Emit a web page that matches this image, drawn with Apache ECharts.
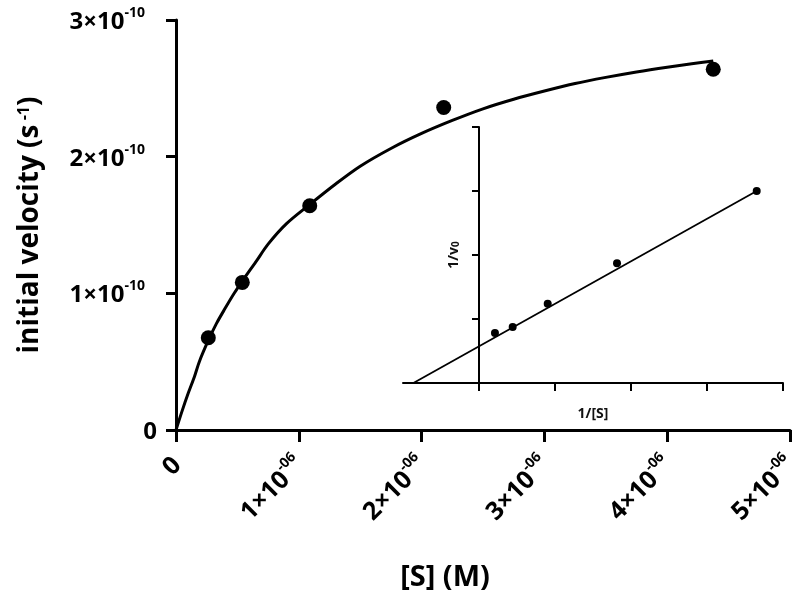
<!DOCTYPE html>
<html>
<head>
<meta charset="utf-8">
<script src="https://cdn.jsdelivr.net/npm/echarts@6/dist/echarts.min.js"></script>
<style>html,body{margin:0;padding:0;background:#fff}#c{width:800px;height:600px}</style>
</head>
<body>
<div id="c"></div>
<script>
// ---- Data (main plot: [S] in units of 1e-6 M, v0 in units of 1e-10 s^-1) ----
const sConc = [0.263, 0.54, 1.089, 2.18, 4.375];
const velocity = [0.675, 1.08, 1.641, 2.36, 2.64];
// fitted curve
const fitS = [0, 0.05, 0.1, 0.15, 0.19, 0.263, 0.33, 0.4, 0.47, 0.54, 0.65, 0.75, 0.9, 1.089, 1.3, 1.5, 1.75, 2.0, 2.25, 2.5, 2.75, 3.0, 3.25, 3.5, 3.75, 4.0, 4.2, 4.375];
const fitV = [0, 0.14, 0.27, 0.39, 0.50, 0.655, 0.78, 0.89, 0.995, 1.09, 1.23, 1.36, 1.51, 1.65, 1.80, 1.93, 2.06, 2.17, 2.265, 2.35, 2.42, 2.48, 2.535, 2.58, 2.62, 2.655, 2.68, 2.70];
// tick labels
const xTickMant = ['0', '1×10', '2×10', '3×10', '4×10', '5×10'];
const xTickExp = ['', '-06', '-06', '-06', '-06', '-06'];
const yTickMant = ['0', '1×10', '2×10', '3×10'];
const yTickExp = ['', '-10', '-10', '-10'];
// inset (Lineweaver-Burk, arbitrary units)
const invS = [0.21, 0.443, 0.904, 1.816, 3.654];
const invV = [0.78, 0.875, 1.24, 1.87, 3.0];
const lbLineX = [-0.863, 3.654];
const lbLineY = [0, 3.0];

const FONT = 'Open Sans';
function mkRich(big, small, raise, gap) {
  return {
    m: {fontFamily: FONT, fontWeight: 'bold', fontSize: big, color: '#000', lineHeight: big + 4, verticalAlign: 'bottom'},
    e: {fontFamily: FONT, fontWeight: 'bold', fontSize: small, color: '#000', lineHeight: small, verticalAlign: 'top', padding: [0, 0, raise, 0]},
    g: {fontSize: 1, width: gap, lineHeight: 1}
  };
}
function fmt(mant, exp, useGap) {
  return function (val) {
    const i = Math.round(val);
    return exp[i] ? '{m|' + mant[i] + '}{e|' + exp[i] + '}' + (useGap ? '{g| }' : '') : '{m|' + mant[i] + '}';
  };
}

const chart = echarts.init(document.getElementById('c'), null, {renderer: 'canvas'});
chart.setOption({
  animation: false,
  backgroundColor: '#fff',
  grid: [
    {left: 176, right: 10, top: 20, bottom: 170, containLabel: false, outerBoundsMode: 'none'},
    {left: 403, right: 17, top: 127, bottom: 217, containLabel: false, outerBoundsMode: 'none'}
  ],
  xAxis: [
    {
      type: 'value', gridIndex: 0, min: 0, max: 5, interval: 1,
      splitLine: {show: false},
      axisLine: {lineStyle: {color: '#000', width: 3}},
      axisTick: {length: 12, lineStyle: {color: '#000', width: 3}},
      axisLabel: {rotate: 45, margin: 30, formatter: fmt(xTickMant, xTickExp, false), rich: mkRich(25, 14, 9, 0)},
      name: '[S] (M)', nameLocation: 'middle', nameGap: 133,
      nameTextStyle: {fontFamily: FONT, fontWeight: 'bold', fontSize: 29, color: '#000', padding: [0, 76, 0, 0]}
    },
    {
      type: 'value', gridIndex: 1, min: -1, max: 4, interval: 1,
      splitLine: {show: false},
      axisLine: {onZero: false, lineStyle: {color: '#000', width: 2}},
      axisTick: {length: 8, lineStyle: {color: '#000', width: 2}, customValues: [0, 1, 2, 3, 4]},
      axisLabel: {show: false},
      name: '1/[S]', nameLocation: 'middle', nameGap: 24,
      nameTextStyle: {fontFamily: FONT, fontWeight: 'bold', fontSize: 14, color: '#111'}
    }
  ],
  yAxis: [
    {
      type: 'value', gridIndex: 0, min: 0, max: 3, interval: 1,
      splitLine: {show: false},
      axisLine: {lineStyle: {color: '#000', width: 3}},
      axisTick: {length: 10, lineStyle: {color: '#000', width: 3}},
      axisLabel: {margin: 19, formatter: fmt(yTickMant, yTickExp, true), rich: mkRich(24, 14, 9, 12)},
      name: '{t|initial velocity (s}{s| -1}{t|)}', nameLocation: 'middle', nameGap: 132,
      nameTextStyle: {
        rich: {
          t: {fontFamily: FONT, fontWeight: 'bold', fontSize: 28, color: '#000', lineHeight: 28, verticalAlign: 'bottom'},
          s: {fontFamily: FONT, fontWeight: 'bold', fontSize: 16, color: '#000', lineHeight: 16, verticalAlign: 'top', padding: [0, 0, 10, 0]}
        }
      }
    },
    {
      type: 'value', gridIndex: 1, min: 0, max: 4, interval: 1,
      splitLine: {show: false},
      axisLine: {onZero: true, lineStyle: {color: '#000', width: 2}},
      axisTick: {length: 7, lineStyle: {color: '#000', width: 2}, customValues: [1, 2, 3, 4]},
      axisLabel: {show: false},
      name: '{t|1/v}{s|0}', nameLocation: 'middle', nameGap: -58,
      nameTextStyle: {
        rich: {
          t: {fontFamily: FONT, fontWeight: 'bold', fontSize: 14, color: '#111', lineHeight: 18, verticalAlign: 'bottom'},
          s: {fontFamily: FONT, fontWeight: 'bold', fontSize: 10, color: '#111', lineHeight: 10, verticalAlign: 'bottom', padding: [5, 0, 0, 0]}
        }
      }
    }
  ],
  series: [
    {
      type: 'line', xAxisIndex: 0, yAxisIndex: 0, smooth: 0.3,
      showSymbol: false, symbol: 'none',
      lineStyle: {color: '#000', width: 3},
      data: fitS.map((x, i) => [x, fitV[i]]), z: 3
    },
    {
      type: 'scatter', xAxisIndex: 0, yAxisIndex: 0, symbolSize: 15,
      itemStyle: {color: '#000', opacity: 1},
      data: sConc.map((x, i) => [x, velocity[i]]), z: 4
    },
    {
      type: 'line', xAxisIndex: 1, yAxisIndex: 1, showSymbol: false, symbol: 'none',
      lineStyle: {color: '#000', width: 1.8},
      data: lbLineX.map((x, i) => [x, lbLineY[i]]), z: 3
    },
    {
      type: 'scatter', xAxisIndex: 1, yAxisIndex: 1, symbolSize: 8,
      itemStyle: {color: '#000', opacity: 1},
      data: invS.map((x, i) => [x, invV[i]]), z: 4
    }
  ]
});
</script>
</body>
</html>
